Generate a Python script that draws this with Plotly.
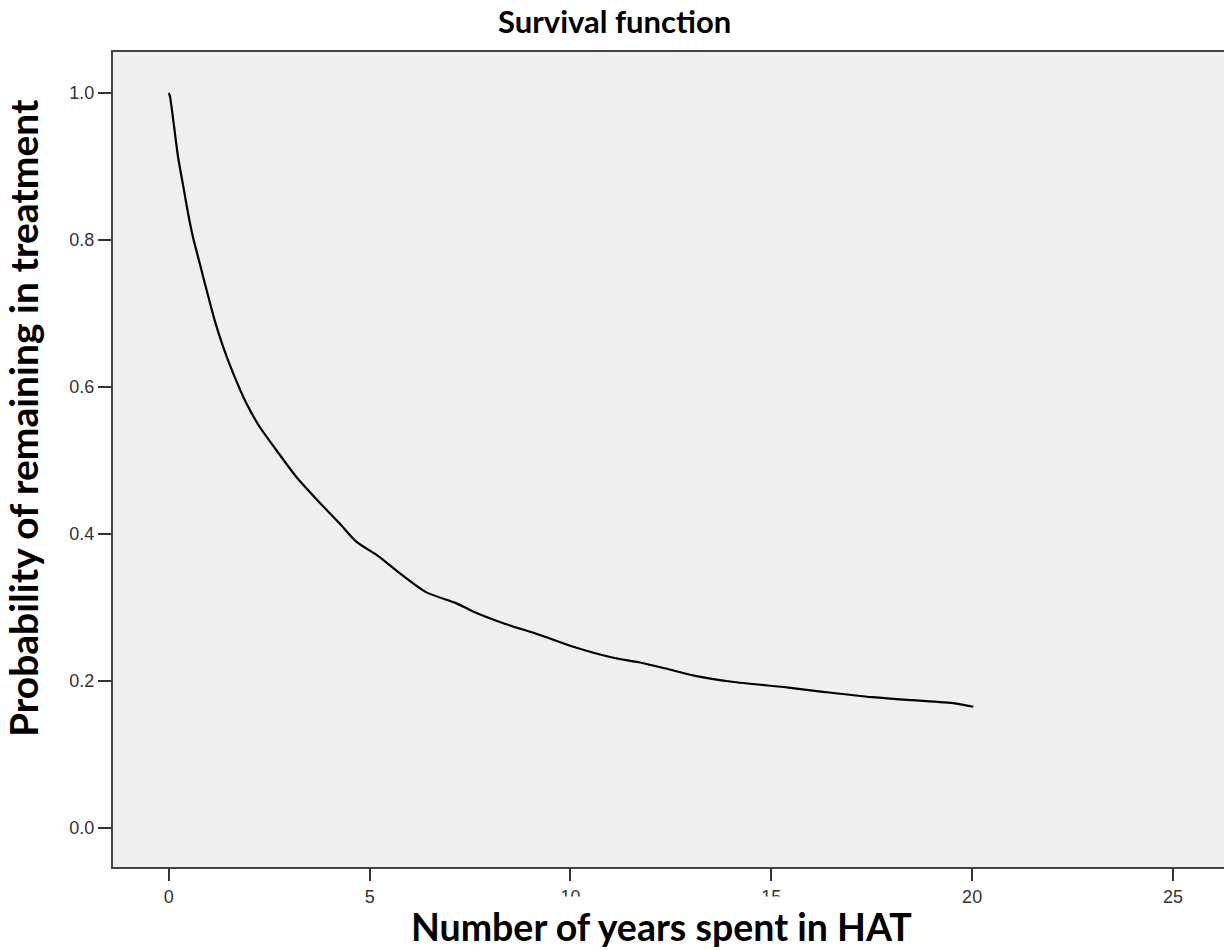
import plotly.graph_objects as go

# Survival curve (years spent in HAT vs probability of remaining in treatment)
years = [0.0, 0.03, 0.11, 0.23, 0.36, 0.48, 0.60, 0.77, 0.94, 1.14, 1.35, 1.60, 1.93, 2.26,
         2.68, 3.17, 3.70, 4.25, 4.66, 5.24, 5.74, 6.40, 7.15, 7.56, 8.31, 9.22, 10.05,
         11.04, 11.70, 12.37, 13.11, 14.02, 15.43, 16.34, 17.50, 18.50, 19.57, 20.03]
survival = [1.000, 0.995, 0.963, 0.913, 0.873, 0.836, 0.804, 0.768, 0.732, 0.691, 0.655,
            0.619, 0.578, 0.546, 0.514, 0.478, 0.446, 0.4145, 0.390, 0.369, 0.347, 0.321,
            0.306, 0.295, 0.279, 0.263, 0.247, 0.232, 0.2256, 0.217, 0.207, 0.199, 0.191,
            0.185, 0.178, 0.174, 0.1696, 0.165]

x_ticks = [0, 5, 10, 15, 20, 25]
y_ticks = [0.0, 0.2, 0.4, 0.6, 0.8, 1.0]
y_tick_labels = ["0.0", "0.2", "0.4", "0.6", "0.8", "1.0"]

title_text = "Survival function"
x_title = "Number of years spent in HAT"
y_title = "Probability of remaining in treatment"

fig = go.Figure()
fig.add_trace(go.Scatter(x=years, y=survival, mode="lines",
                         line=dict(color="black", width=2.2, shape="spline", smoothing=0.7),
                         showlegend=False))

axis_common = dict(showline=True, mirror=True, linecolor="#444444", linewidth=2,
                   showgrid=False, zeroline=False, ticks="outside", tickcolor="#333333",
                   tickwidth=2, tickfont=dict(family="Liberation Sans, Arial", size=18, color="#333333"))

fig.update_xaxes(range=[-1.39, 26.37], tickvals=x_ticks, ticklen=12, **axis_common)
fig.update_yaxes(range=[-0.053, 1.0558], tickvals=y_ticks, ticktext=y_tick_labels,
                 ticklen=13, **axis_common)

fig.update_layout(
    width=1224, height=942,
    margin=dict(l=105, r=2, t=44, b=83),
    paper_bgcolor="white", plot_bgcolor="#efefef",
    annotations=[
        dict(text=f"<b>{title_text}</b>", xref="paper", yref="paper", x=0.4494, y=1.0123,
             xanchor="center", yanchor="bottom", showarrow=False,
             font=dict(family="Lato", size=31, color="black")),
        dict(text=f"<b>{x_title}</b>", xref="paper", yref="paper", x=0.4915, y=-0.0356,
             xanchor="center", yanchor="top", showarrow=False, bgcolor="white", borderpad=7,
             font=dict(family="Lato", size=37.5, color="black")),
        dict(text=f"<b>{y_title}</b>", xref="paper", yref="paper", x=-0.0806, y=0.551,
             xanchor="center", yanchor="middle", showarrow=False, textangle=-90,
             font=dict(family="Lato", size=39, color="black")),
    ],
)

fig.write_html("out.html")
